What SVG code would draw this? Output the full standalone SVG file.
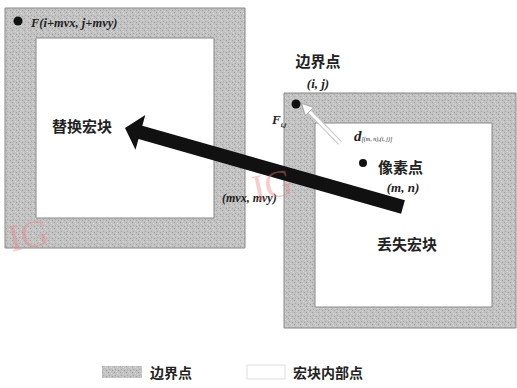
<svg xmlns="http://www.w3.org/2000/svg" width="517" height="388" viewBox="0 0 517 388">
<defs>
<pattern id="noise" width="6" height="6" patternUnits="userSpaceOnUse">
<rect width="6" height="6" fill="#c2c2c2"/>
<rect x="0" y="0" width="1" height="1" fill="#a0a0a0"/>
<rect x="3" y="1" width="1" height="1" fill="#dadada"/>
<rect x="1" y="3" width="1" height="1" fill="#a8a8a8"/>
<rect x="4" y="4" width="1" height="1" fill="#a0a0a0"/>
<rect x="5" y="2" width="1" height="1" fill="#d6d6d6"/>
<rect x="2" y="5" width="1" height="1" fill="#d4d4d4"/>
</pattern>
<marker id="wh" viewBox="0 0 10 10" refX="2" refY="5" markerWidth="4" markerHeight="4" orient="auto-start-reverse">
<path d="M0,0 L10,5 L0,10 z" fill="#fff" stroke="#aaa" stroke-width="1"/>
</marker>
</defs>
<style>
.blk{fill:url(#noise);fill-rule:evenodd;stroke:#888;stroke-width:1}
.cn{font-family:"Noto Sans CJK SC","Noto Sans CJK JP",sans-serif;font-weight:bold;fill:#222}
.it{font-family:"Liberation Serif",serif;font-style:italic;font-weight:bold;fill:#222}
.wm{font-family:"Liberation Serif",serif;fill:#f08080;opacity:0.4}
</style>
<rect width="517" height="388" fill="#fff"/>
<g id="replace-block">
<path class="blk" d="M5,8 H245 V248 H5 Z M36,38 V218 H214 V38 Z"/>
<circle cx="18" cy="21" r="4.5" fill="#111"/>
<text class="it" x="31" y="27" font-size="12.5">F(i+mvx, j+mvy)</text>
<text class="cn" x="52" y="132" font-size="15">替换宏块</text>
</g>
<g id="lost-block">
<path class="blk" d="M284,93 H516 V328 H284 Z M315,123 V307 H492 V123 Z"/>
<text class="cn" x="318" y="67" font-size="15" text-anchor="middle">边界点</text>
<text class="it" x="318" y="88" font-size="13" text-anchor="middle">(i, j)</text>
<circle cx="296" cy="104" r="4.5" fill="#111"/>
<text class="it" x="272" y="124" font-size="13">F<tspan font-size="7" dy="3">i,j</tspan></text>
<circle cx="363" cy="163" r="4" fill="#111"/>
<text class="cn" x="378" y="173" font-size="15">像素点</text>
<text class="it" x="403" y="192" font-size="13" text-anchor="middle">(m, n)</text>
<text class="cn" x="377" y="250" font-size="15">丢失宏块</text>
<text class="it" x="354" y="141" font-size="15">d<tspan font-size="6" font-weight="normal">[(m, n),(i, j)]</tspan></text>
</g>
<g id="connectors">
<line x1="340" y1="143" x2="308" y2="110" stroke="#c8c8c8" stroke-width="5"/>
<line x1="340" y1="143" x2="308" y2="110" stroke="#fff" stroke-width="3" marker-end="url(#wh)"/>
<polygon points="125,128 145.3,115.1 142.3,125.7 404.9,200.3 401.1,213.7 138.5,139.1 135.5,149.7" fill="#111"/>
<text class="it" x="222" y="202" font-size="12">(mvx, mvy)</text>
</g>
<g id="legend">
<rect x="102" y="366" width="40" height="12" fill="url(#noise)"/>
<text class="cn" x="150" y="378" font-size="14">边界点</text>
<rect x="247" y="365" width="38" height="14" fill="#fff" stroke="#ddd" stroke-width="1"/>
<text class="cn" x="293" y="378" font-size="14">宏块内部点</text>
</g>
<g id="watermarks">
<text class="wm" x="8" y="248" font-size="38" transform="rotate(-12 28 235)">IG</text>
<text class="wm" x="252" y="198" font-size="38" transform="rotate(-12 272 185)">IG</text>
</g>
</svg>
